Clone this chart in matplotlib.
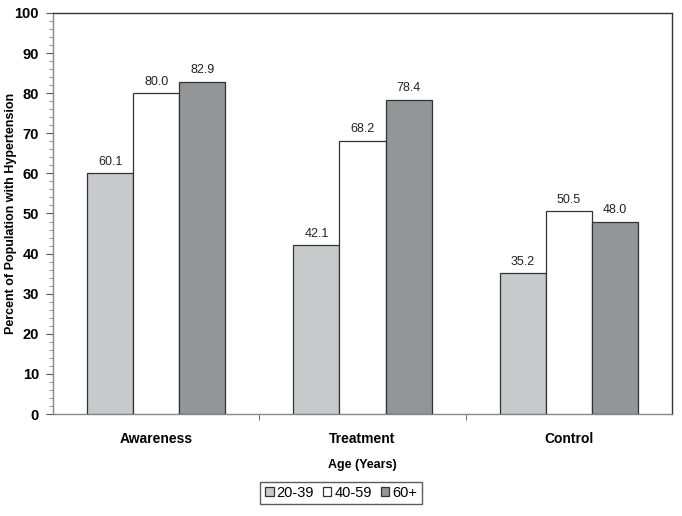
import matplotlib
matplotlib.use("Agg")
import matplotlib.pyplot as plt
from matplotlib.ticker import MultipleLocator, FixedLocator
import numpy as np

categories = ["Awareness", "Treatment", "Control"]
series_names = ["20-39", "40-59", "60+"]
vals_20_39 = [60.1, 42.1, 35.2]
vals_40_59 = [80.0, 68.2, 50.5]
vals_60p = [82.9, 78.4, 48.0]
colors = ["#c8c9cb", "#ffffff", "#949598"]

plt.rcParams['font.family'] = ['Liberation Sans', 'DejaVu Sans']

fig = plt.figure(figsize=(6.82, 5.16), dpi=100)
ax = fig.add_axes([53/682, 1-414/516, (672-53)/682, (414-13)/516])

x = np.arange(len(categories))
w = 0.223
series = [vals_20_39, vals_40_59, vals_60p]
handles = []
for i, (vals, c, name) in enumerate(zip(series, colors, series_names)):
    b = ax.bar(x + (i-1)*w, vals, w, color=c, edgecolor="#333333", linewidth=0.9, label=name, zorder=3)
    handles.append(b)
    for xi, v in zip(x + (i-1)*w, vals):
        ax.text(xi, v + 1.3, f"{v:.1f}", ha="center", va="bottom", fontsize=9, color="#222222")

ax.set_xlim(-0.5, 2.5)
ax.set_ylim(0, 100)
ax.yaxis.set_major_locator(MultipleLocator(10))
ax.yaxis.set_minor_locator(MultipleLocator(2))
ax.set_xticks(x)
ax.set_xticklabels(categories, fontsize=10, fontweight="bold")
ax.tick_params(axis="x", length=0, pad=13)
ax.xaxis.set_minor_locator(FixedLocator([0.5, 1.5]))
ax.tick_params(axis="x", which="minor", length=4, color="#555555", direction="out")
ax.tick_params(axis="y", which="major", length=5, labelsize=10.5, direction="out", color="#555555", pad=5)
ax.tick_params(axis="y", which="minor", length=3, direction="out", color="#888888")
for lbl in ax.get_yticklabels():
    lbl.set_fontweight("bold")
for s in ax.spines.values():
    s.set_color("#333333")
    s.set_linewidth(1.0)
ax.spines["left"].set_color("#888888")
ax.spines["bottom"].set_color("#888888")

fig.text(11/682, 1-213/516, "Percent of Population with Hypertension", rotation=90,
         ha="center", va="center", fontsize=9, fontweight="bold")
fig.text(362/682, 1-465/516, "Age (Years)", ha="center", va="center", fontsize=9, fontweight="bold")

leg = fig.legend(handles=handles, labels=series_names, loc="center", bbox_to_anchor=(341/682, 1-493/516),
                 ncol=3, frameon=True, fancybox=False, edgecolor="#333333", fontsize=10.5,
                 handlelength=0.6, handleheight=0.6, handletextpad=0.2, columnspacing=0.6,
                 borderpad=0.3, borderaxespad=0)
leg.get_frame().set_linewidth(1.0)

fig.savefig("out.png", dpi=100)
